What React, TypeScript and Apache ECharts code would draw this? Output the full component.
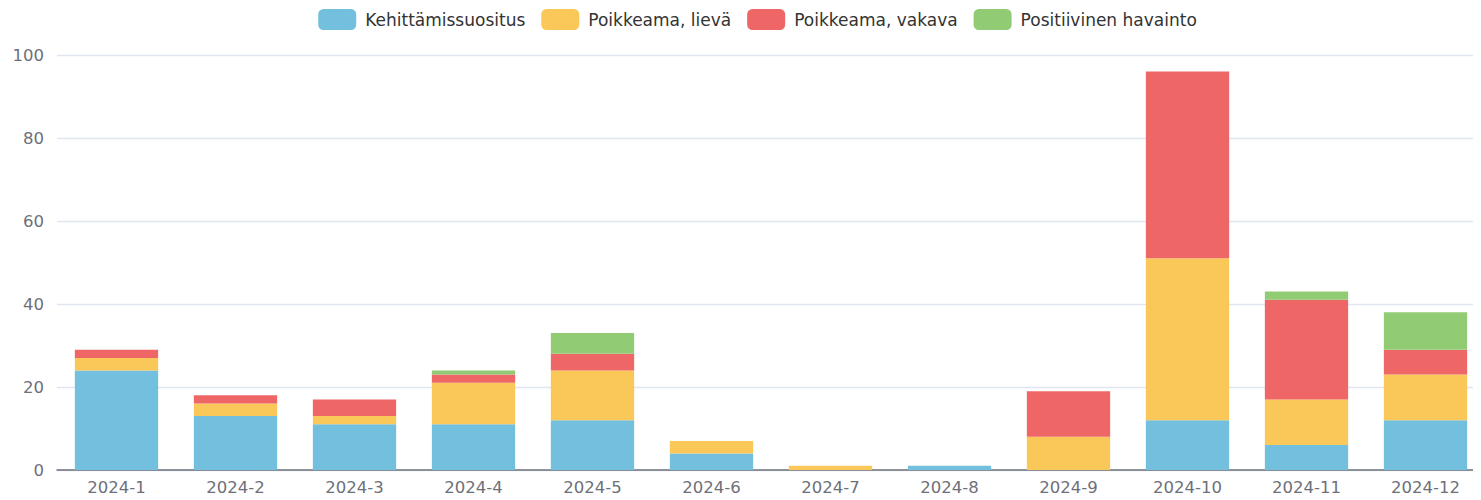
import React, { useEffect, useRef } from "react";
import * as echarts from "echarts";

const categories = ["2024-1","2024-2","2024-3","2024-4","2024-5","2024-6","2024-7","2024-8","2024-9","2024-10","2024-11","2024-12"];
const kehittamissuositus = [24, 13, 11, 11, 12, 4, 0, 1, 0, 12, 6, 12];
const poikkeamaLieva = [3, 3, 2, 10, 12, 3, 1, 0, 8, 39, 11, 11];
const poikkeamaVakava = [2, 2, 4, 2, 4, 0, 0, 0, 11, 45, 24, 6];
const positiivinen = [0, 0, 0, 1, 5, 0, 0, 0, 0, 0, 2, 9];
const yTicks = { min: 0, max: 100, interval: 20 };

const FONT = "'DejaVu Sans', sans-serif";

export default function App() {
  const ref = useRef<HTMLDivElement>(null);
  useEffect(() => {
    const chart = echarts.init(ref.current!, null, { renderer: "svg" });
    const mk = (name: string, data: number[], color: string) => ({
      name,
      type: "bar",
      stack: "total",
      data,
      barCategoryGap: "30%",
      itemStyle: { color },
    });
    chart.setOption({
      animation: false,
      textStyle: { fontFamily: FONT },
      legend: {
        top: 1,
        left: "center",
        padding: 0,
        itemWidth: 38,
        itemHeight: 21,
        itemGap: 16,
        textStyle: { fontSize: 17, color: "#333", fontFamily: FONT, padding: [0, 0, 0, 4] },
      },
      grid: { left: 49, right: 22, top: 47, bottom: 30 },
      xAxis: {
        type: "category",
        data: categories,
        axisLine: { lineStyle: { color: "#6E7079", width: 1.5 } },
        axisTick: { length: 7, lineStyle: { color: "#6E7079", width: 1.5 } },
        axisLabel: { fontSize: 16.5, color: "#6E7079", margin: 9, fontFamily: FONT },
      },
      yAxis: {
        type: "value",
        min: yTicks.min,
        max: yTicks.max,
        interval: yTicks.interval,
        axisLabel: { fontSize: 16.5, color: "#6E7079", margin: 13, fontFamily: FONT },
        splitLine: { lineStyle: { color: "#E0E6F1", width: 1.4 } },
      },
      series: [
        mk("Kehittämissuositus", kehittamissuositus, "#73c0de"),
        mk("Poikkeama, lievä", poikkeamaLieva, "#fac858"),
        mk("Poikkeama, vakava", poikkeamaVakava, "#ee6666"),
        mk("Positiivinen havainto", positiivinen, "#91cc75"),
      ],
    });
    return () => chart.dispose();
  }, []);
  return (
    <div style={{ width: 1473, height: 492, overflow: "hidden" }}>
      <div ref={ref} style={{ width: 1499, height: 492 }} />
    </div>
  );
}
